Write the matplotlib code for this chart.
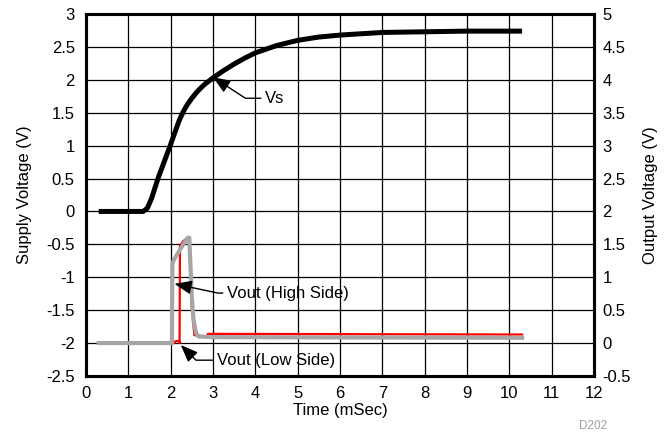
import matplotlib.pyplot as plt

plt.rcParams['font.family'] = ['Liberation Sans', 'DejaVu Sans']
plt.rcParams['font.size'] = 12

# Supply voltage (left axis, V)
t_vs = [0.3, 1.0, 1.35, 1.45, 1.55, 1.7, 1.85, 2.0, 2.1, 2.2, 2.3, 2.4, 2.5, 2.6, 2.7, 2.8, 2.9,
        3.0, 3.25, 3.5, 3.75, 4.0, 4.5, 5.0, 5.5, 6.0, 6.5, 7.0, 8.0, 9.0, 10.3]
vs = [0.0, 0.0, 0.0, 0.05, 0.2, 0.5, 0.76, 1.02, 1.2, 1.38, 1.52, 1.63, 1.72, 1.8, 1.87, 1.93, 1.98,
      2.03, 2.14, 2.24, 2.33, 2.41, 2.52, 2.6, 2.65, 2.68, 2.7, 2.72, 2.73, 2.74, 2.74]

# Output voltages (right axis, V)
t_high = [0.3, 2.03, 2.04, 2.08, 2.3, 2.4, 2.44, 2.46, 2.5, 2.54, 2.6, 2.66, 3.0, 10.3]
v_high = [0.0, 0.0, 1.2, 1.27, 1.5, 1.6, 1.6, 1.3, 0.7, 0.35, 0.15, 0.1, 0.09, 0.08]
t_low = [0.3, 2.08, 2.12, 2.2, 2.21, 2.22, 2.3, 2.4, 2.44, 2.49, 2.56, 2.85, 2.88, 10.3]
v_low = [0.0, 0.0, 0.03, 0.03, 0.0, 1.48, 1.55, 1.6, 1.55, 0.6, 0.12, 0.1, 0.14, 0.13]

fig = plt.figure(figsize=(6.65, 4.38), dpi=100)
ax = fig.add_axes([0.1293, 0.1416, 0.7640, 0.8264])
ax2 = ax.twinx()

ax.plot(t_vs, vs, color='black', lw=3.6, solid_capstyle='butt')
ax2.plot(t_high, v_high, color='#a6a6a6', lw=3.0, zorder=3)
ax2.plot(t_low, v_low, color='red', lw=1.6, zorder=2)

ax.set_xlim(0, 12)
ax.set_ylim(-2.5, 3)
ax2.set_ylim(-0.5, 5)
ax.set_xticks(range(0, 13))
ax.set_yticks([-2.5, -2, -1.5, -1, -0.5, 0, 0.5, 1, 1.5, 2, 2.5, 3])
ax2.set_yticks([-0.5, 0, 0.5, 1, 1.5, 2, 2.5, 3, 3.5, 4, 4.5, 5])
ax.set_yticklabels(['-2.5', '-2', '-1.5', '-1', '-0.5', '0', '0.5', '1', '1.5', '2', '2.5', '3'])
ax2.set_yticklabels(['-0.5', '0', '0.5', '1', '1.5', '2', '2.5', '3', '3.5', '4', '4.5', '5'])
ax.grid(True, color='black', lw=0.9)
ax.set_axisbelow(True)
for a in (ax, ax2):
    a.tick_params(length=0, labelsize=12)
    for s in a.spines.values():
        s.set_linewidth(2.2)
ax.tick_params(axis='x', pad=7)
ax.tick_params(axis='y', pad=8)
ax2.tick_params(axis='y', pad=6)

ax.set_xlabel('Time (mSec)', fontsize=12, labelpad=2)
ax.set_ylabel('Supply Voltage (V)', fontsize=12, labelpad=10)
ax2.set_ylabel('Output Voltage (V)', fontsize=12, labelpad=9)

arrow = dict(arrowstyle='-|>,head_length=0.75,head_width=0.3', color='black', lw=1.0,
             mutation_scale=14, shrinkA=1, shrinkB=0)
ax.annotate('Vs', xy=(3.0, 2.04), xytext=(4.23, 1.72), va='center', fontsize=12,
            arrowprops=dict(arrow, connectionstyle='angle,angleA=0,angleB=-33,rad=0'))
ax2.annotate('Vout (High Side)', xy=(2.09, 0.9), xytext=(3.33, 0.76), va='center', fontsize=12,
             arrowprops=dict(arrow, connectionstyle='angle,angleA=0,angleB=-12,rad=0'))
ax2.annotate('Vout (Low Side)', xy=(2.24, -0.03), xytext=(3.1, -0.26), va='center', fontsize=12,
             arrowprops=dict(arrow, connectionstyle='angle,angleA=0,angleB=-45,rad=0'))

fig.text(0.87, 0.02, 'D202', color='#a0a0a0', fontsize=8.5)

fig.savefig('out.png', dpi=100)
